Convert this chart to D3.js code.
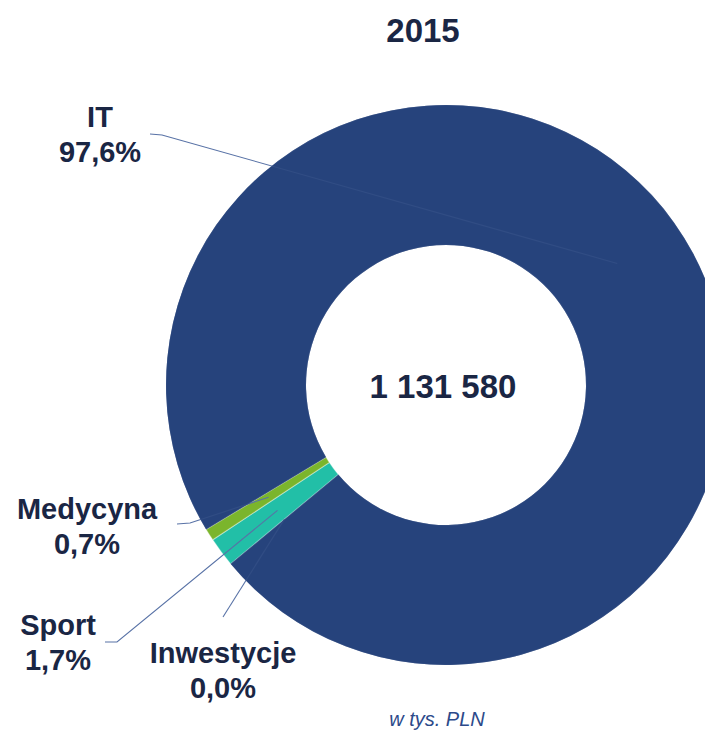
<!DOCTYPE html>
<html lang="pl">
<head>
  <meta charset="UTF-8">
  <title>2015</title>
  <script src="https://d3js.org/d3.v7.min.js"></script>
</head>
<body style="margin: 0; padding: 0; background: #ffffff; overflow: hidden;">
  <svg id="donut"></svg>
  <script>
    // Data
    const year = "2015";
    const totalLabel = "1 131 580";
    const unitLabel = "w tys. PLN";
    const categories = ["IT", "Inwestycje", "Sport", "Medycyna"];
    const shares = [97.6, 0.0, 1.7, 0.7];
    const shareLabels = ["97,6%", "0,0%", "1,7%", "0,7%"];

    // Layout
    const width = 705, height = 731;
    const cx = 446, cy = 385;
    const outerR = 280, innerR = 140;
    const startDeg = 238.94;
    const colors = ["#27437c", "#2a5a9a", "#22bfa7", "#7bb52c"];
    const textColor = "#1a2644";
    const lineColor = "#5872a6";

    // label text centre, first baseline, leader line start and elbow
    const labelLayout = [
      { x: 100, y: 127, line: [[150, 134], [162, 135]] },
      { x: 223, y: 663, line: [[223, 617]] },
      { x: 58,  y: 635, line: [[105, 642], [117, 642]] },
      { x: 87,  y: 519, line: [[177, 524], [190, 523]] }
    ];

    const svg = d3.select("#donut")
      .attr("width", width)
      .attr("height", height)
      .style("display", "block");

    const g = svg.append("g")
      .attr("transform", `translate(${cx}, ${cy})`);

    const start = startDeg * Math.PI / 180;
    const pie = d3.pie()
      .sort(null)
      .value(d => d)
      .startAngle(start)
      .endAngle(start + 2 * Math.PI);

    const arc = d3.arc()
      .innerRadius(innerR)
      .outerRadius(outerR);

    const arcs = pie(shares);

    g.selectAll("path.slice")
      .data(arcs)
      .enter().append("path")
      .attr("class", "slice")
      .attr("d", arc)
      .attr("fill", (d, i) => colors[i])
      .attr("stroke", "#ffffff")
      .attr("stroke-opacity", 0.35)
      .attr("stroke-width", 1.2);

    // Leader lines: from label to slice centroid
    const line = d3.line();
    svg.selectAll("path.leader")
      .data(arcs)
      .enter().append("path")
      .attr("class", "leader")
      .attr("d", (d, i) => {
        const c = arc.centroid(d);
        const pts = labelLayout[i].line.concat([[c[0] + cx, c[1] + cy]]);
        return line(pts);
      })
      .attr("fill", "none")
      .attr("stroke", lineColor)
      .attr("stroke-width", 1.1);

    // the lines barely show through the big IT slice
    svg.append("path")
      .attr("transform", `translate(${cx}, ${cy})`)
      .attr("d", arc(arcs[0]))
      .attr("fill", colors[0])
      .attr("fill-opacity", 0.8);

    // Category labels
    const labels = svg.selectAll("text.label")
      .data(categories)
      .enter().append("text")
      .attr("class", "label")
      .attr("text-anchor", "middle")
      .attr("font-family", "Liberation Sans, Arial, sans-serif")
      .attr("font-weight", "bold")
      .attr("font-size", 29)
      .attr("fill", textColor);

    labels.append("tspan")
      .attr("x", (d, i) => labelLayout[i].x)
      .attr("y", (d, i) => labelLayout[i].y)
      .text(d => d);

    labels.append("tspan")
      .attr("x", (d, i) => labelLayout[i].x)
      .attr("y", (d, i) => labelLayout[i].y + 35)
      .text((d, i) => shareLabels[i]);

    // Title
    svg.append("text")
      .attr("x", 423)
      .attr("y", 42)
      .attr("text-anchor", "middle")
      .attr("font-family", "Liberation Sans, Arial, sans-serif")
      .attr("font-weight", "bold")
      .attr("font-size", 33)
      .attr("fill", textColor)
      .text(year);

    // Centre total
    svg.append("text")
      .attr("x", cx - 3)
      .attr("y", 398)
      .attr("text-anchor", "middle")
      .attr("font-family", "Liberation Sans, Arial, sans-serif")
      .attr("font-weight", "bold")
      .attr("font-size", 33)
      .attr("fill", textColor)
      .text(totalLabel);

    // Unit note
    svg.append("text")
      .attr("x", 437)
      .attr("y", 726)
      .attr("text-anchor", "middle")
      .attr("font-family", "Liberation Sans, Arial, sans-serif")
      .attr("font-style", "italic")
      .attr("font-size", 20)
      .attr("fill", "#2c4a8a")
      .text(unitLabel);
  </script>
</body>
</html>
